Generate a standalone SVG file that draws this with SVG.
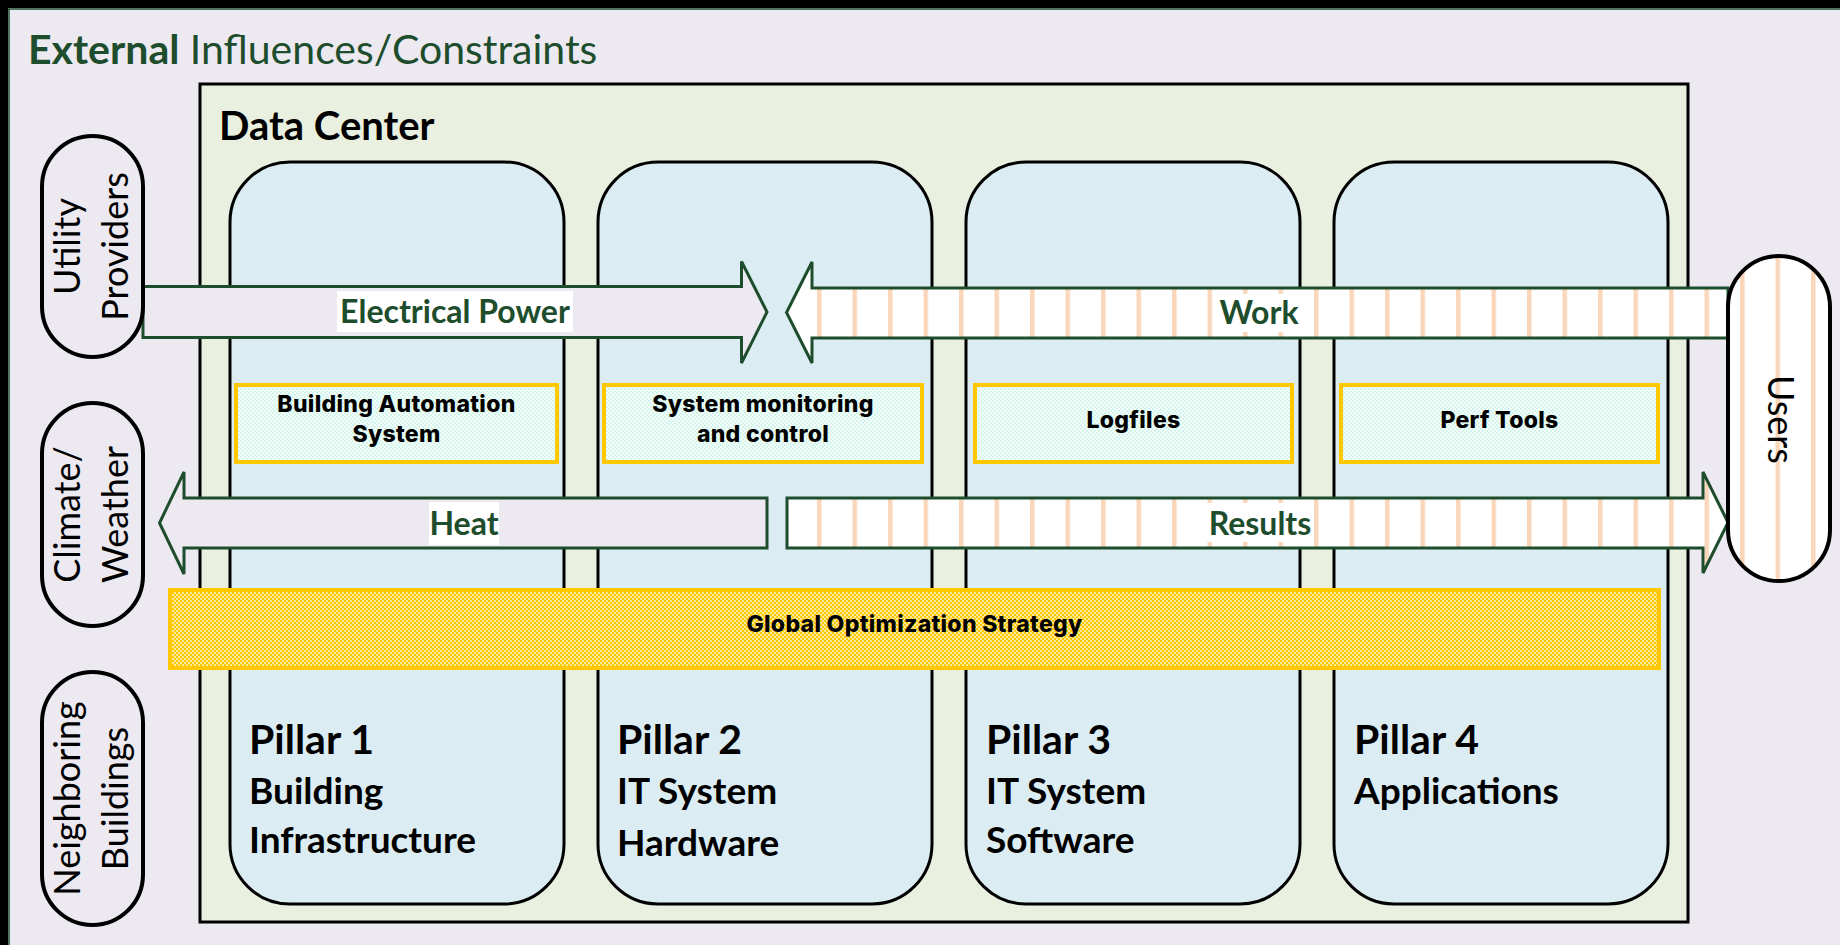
<svg xmlns="http://www.w3.org/2000/svg" width="1840" height="945" viewBox="0 0 1840 945">
  <style>
    .bg { fill: #ECE9F1; }
    .frame { fill: #000000; }
    .title { font-family: Lato, "Liberation Sans", sans-serif; font-size: 41px; fill: #1D4D2C; }
    .dc { fill: #E9F0DF; stroke: #000000; stroke-width: 3; }
    .dc-label { font-family: Lato, "Liberation Sans", sans-serif; font-weight: 700; font-size: 40px; fill: #000000; }
    .pillar { fill: #DBEDF3; stroke: #000000; stroke-width: 3; }
    .p-head { font-family: Lato, "Liberation Sans", sans-serif; font-weight: 700; font-size: 41px; fill: #000000; }
    .p-sub { font-family: Lato, "Liberation Sans", sans-serif; font-weight: 700; font-size: 37px; fill: #000000; }
    .ext { fill: #ECE9F1; stroke: #000000; stroke-width: 4; }
    .ext-users { fill: url(#stripes); stroke: #000000; stroke-width: 4; }
    .ext-label { font-family: Lato, "Liberation Sans", sans-serif; font-size: 36px; fill: #000000; text-anchor: middle; }
    .tool { fill: url(#mint); stroke: #FFC800; stroke-width: 4; }
    .tool-label { font-family: Inter, "Liberation Sans", sans-serif; font-weight: 800; font-size: 23px; letter-spacing: 0.3px; fill: #000000; text-anchor: middle; }
    .strategy { fill: url(#gold); stroke: #FFC800; stroke-width: 4; }
    .flow-plain { fill: #ECE9F1; stroke: #1D4D2C; stroke-width: 3; stroke-linejoin: miter; }
    .flow-striped { fill: url(#stripes); stroke: #1D4D2C; stroke-width: 3; stroke-linejoin: miter; }
    .flow-label { font-family: Lato, "Liberation Sans", sans-serif; font-weight: 700; font-size: 32px; fill: #1D4D2C; text-anchor: middle; }
    .label-bg { fill: #FFFFFF; }
  </style>
  <defs>
    <!-- vertical peach stripes shared by the work/results flows and the users node -->
    <pattern id="stripes" patternUnits="userSpaceOnUse" x="817" y="0" width="35.5" height="20">
      <rect x="0" y="0" width="35.5" height="20" fill="#FFFFFF"/>
      <rect x="0" y="0" width="4.5" height="20" fill="#FAD6BA"/>
    </pattern>
    <!-- fine mint checker for the tool boxes -->
    <pattern id="mint" patternUnits="userSpaceOnUse" width="4" height="4">
      <rect width="4" height="4" fill="#F6FDFB"/>
      <rect x="0" y="0" width="2" height="2" fill="#D2F6EC"/>
      <rect x="2" y="2" width="2" height="2" fill="#D2F6EC"/>
    </pattern>
    <!-- fine gold checker for the strategy bar -->
    <pattern id="gold" patternUnits="userSpaceOnUse" width="4" height="4">
      <rect width="4" height="4" fill="#FFEB96"/>
      <rect x="0" y="0" width="2" height="2" fill="#FFC800"/>
      <rect x="2" y="2" width="2" height="2" fill="#FFC800"/>
    </pattern>
  </defs>

  <!-- page background and border -->
  <rect class="bg" x="0" y="0" width="1840" height="945"/>
  <rect class="frame" x="0" y="0" width="1840" height="8"/>
  <rect class="frame" x="0" y="0" width="8" height="945"/>
  <line x1="8" y1="9" x2="1840" y2="9" stroke="#1D4D2C" stroke-width="1.5"/>
  <line x1="9" y1="9" x2="9" y2="945" stroke="#1D4D2C" stroke-width="1.5"/>

  <g id="title">
    <text class="title" x="28" y="64"><tspan font-weight="700">External</tspan> Influences/Constraints</text>
  </g>

  <g id="data-center">
    <rect class="dc" x="200" y="84" width="1488" height="838"/>
    <text class="dc-label" x="219" y="140">Data Center</text>
  </g>

  <g id="pillar-1">
    <rect class="pillar" x="230" y="162" width="334" height="742" rx="60" ry="60"/>
    <text class="p-head" x="249" y="754">Pillar 1</text>
    <text class="p-sub" x="249" y="804">Building</text>
    <text class="p-sub" x="249" y="853">Infrastructure</text>
  </g>
  <g id="pillar-2">
    <rect class="pillar" x="598" y="162" width="334" height="742" rx="60" ry="60"/>
    <text class="p-head" x="617" y="754">Pillar 2</text>
    <text class="p-sub" x="617" y="804">IT System</text>
    <text class="p-sub" x="617" y="856">Hardware</text>
  </g>
  <g id="pillar-3">
    <rect class="pillar" x="966" y="162" width="334" height="742" rx="60" ry="60"/>
    <text class="p-head" x="986" y="754">Pillar 3</text>
    <text class="p-sub" x="986" y="804">IT System</text>
    <text class="p-sub" x="986" y="853">Software</text>
  </g>
  <g id="pillar-4">
    <rect class="pillar" x="1334" y="162" width="334" height="742" rx="60" ry="60"/>
    <text class="p-head" x="1354" y="754">Pillar 4</text>
    <text class="p-sub" x="1354" y="804">Applications</text>
  </g>

  <g id="building-automation">
    <rect class="tool" x="236" y="385" width="321" height="77"/>
    <text class="tool-label" x="396.5" y="412">Building Automation</text>
    <text class="tool-label" x="396.5" y="442">System</text>
  </g>
  <g id="system-monitoring">
    <rect class="tool" x="604" y="385" width="318" height="77"/>
    <text class="tool-label" x="763" y="412">System monitoring</text>
    <text class="tool-label" x="763" y="442">and control</text>
  </g>
  <g id="logfiles">
    <rect class="tool" x="975" y="385" width="317" height="77"/>
    <text class="tool-label" x="1133.5" y="428">Logfiles</text>
  </g>
  <g id="perf-tools">
    <rect class="tool" x="1341" y="385" width="317" height="77"/>
    <text class="tool-label" x="1499.5" y="428">Perf Tools</text>
  </g>

  <g id="connectors">
    <!-- Electrical Power: utility providers into the data center -->
    <polygon class="flow-plain" points="143,286.5 741.5,286.5 741.5,261.5 767,312 741.5,363 741.5,337.5 143,337.5"/>
    <rect class="label-bg" x="337" y="291" width="236" height="41"/>
    <text class="flow-label" x="455" y="323">Electrical Power</text>

    <!-- Work: users into the data center -->
    <polygon class="flow-striped" points="1728,288 812,288 812,262 786.5,312.5 812,363 812,338 1728,338"/>
    <rect class="label-bg" x="1218" y="294" width="82" height="38"/>
    <text class="flow-label" x="1259" y="324">Work</text>

    <!-- Heat: data center out to climate/weather -->
    <polygon class="flow-plain" points="767,498 767,548 184,548 184,574 159.5,523 184,472 184,498"/>
    <rect class="label-bg" x="429" y="502" width="70" height="43"/>
    <text class="flow-label" x="464" y="535">Heat</text>

    <!-- Results: data center out to users -->
    <polygon class="flow-striped" points="787,498 1703,498 1703,472 1728,522.5 1703,573 1703,548 787,548"/>
    <rect class="label-bg" x="1206" y="503" width="108" height="39"/>
    <text class="flow-label" x="1260" y="535">Results</text>
  </g>

  <g id="global-strategy">
    <rect class="strategy" x="170" y="590" width="1489" height="78"/>
    <text class="tool-label" x="914.5" y="632">Global Optimization Strategy</text>
  </g>

  <g id="utility-providers">
    <rect class="ext" x="42" y="136" width="101" height="221" rx="50.5" ry="50.5"/>
    <text class="ext-label" transform="translate(80,246.5) rotate(-90)">Utility</text>
    <text class="ext-label" transform="translate(128,246.5) rotate(-90)">Providers</text>
  </g>
  <g id="climate-weather">
    <rect class="ext" x="42" y="403" width="101" height="223" rx="50.5" ry="50.5"/>
    <text class="ext-label" transform="translate(80,514.5) rotate(-90)">Climate/</text>
    <text class="ext-label" transform="translate(128,514.5) rotate(-90)">Weather</text>
  </g>
  <g id="neighboring-buildings">
    <rect class="ext" x="42" y="672" width="101" height="253" rx="50.5" ry="50.5"/>
    <text class="ext-label" transform="translate(80,798.5) rotate(-90)">Neighboring</text>
    <text class="ext-label" transform="translate(128,798.5) rotate(-90)">Buildings</text>
  </g>
  <g id="users">
    <rect class="ext-users" x="1728" y="256" width="102" height="325" rx="51" ry="51"/>
    <text class="ext-label" transform="translate(1768,419.5) rotate(90)">Users</text>
  </g>
</svg>
